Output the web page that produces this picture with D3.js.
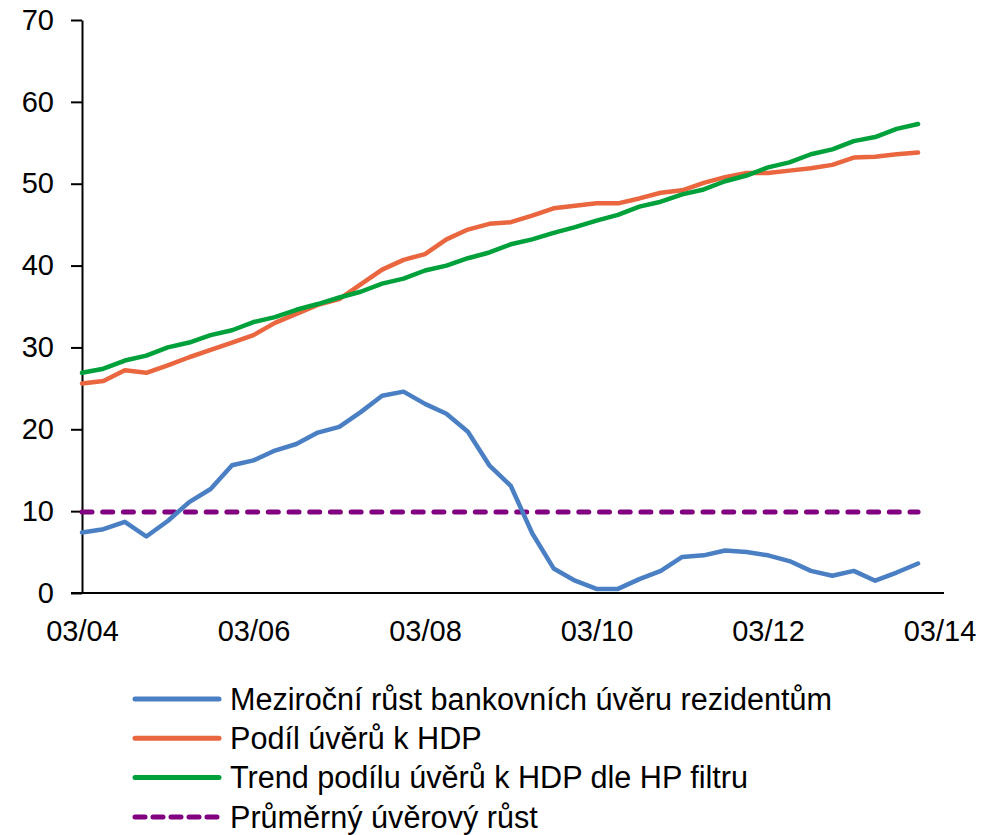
<!DOCTYPE html>
<html>
<head>
<meta charset="utf-8">
<script src="https://cdn.jsdelivr.net/npm/d3@7"></script>
<style>
    body { margin: 0; background: #fff; }
    svg { display: block; font-family: "Liberation Sans", Arial, sans-serif; }
</style>
</head>
<body>
<div id="chart"></div>
<script>
// quarters 03/04 .. 12/13, plus 03/14 which only appears on the axis
const quarters = ["03/04", "06/04", "09/04", "12/04", "03/05", "06/05", "09/05", "12/05",
    "03/06", "06/06", "09/06", "12/06", "03/07", "06/07", "09/07", "12/07",
    "03/08", "06/08", "09/08", "12/08", "03/09", "06/09", "09/09", "12/09",
    "03/10", "06/10", "09/10", "12/10", "03/11", "06/11", "09/11", "12/11",
    "03/12", "06/12", "09/12", "12/12", "03/13", "06/13", "09/13", "12/13", "03/14"];
const xTickLabels = ["03/04", "03/06", "03/08", "03/10", "03/12", "03/14"];
const yTickValues = [0, 10, 20, 30, 40, 50, 60, 70];

const creditGrowth = [7.4, 7.8, 8.7, 6.9, 8.8, 11.1, 12.7, 15.6, 16.2, 17.4,
    18.2, 19.6, 20.3, 22.1, 24.1, 24.6, 23.1, 21.9, 19.7, 15.6,
    13.1, 7.3, 3.0, 1.5, 0.5, 0.5, 1.7, 2.7, 4.4, 4.6,
    5.2, 5.0, 4.6, 3.9, 2.7, 2.1, 2.7, 1.5, 2.5, 3.6];
const creditToGdp = [25.6, 25.9, 27.2, 26.9, 27.8, 28.8, 29.7, 30.6, 31.5, 33.0,
    34.1, 35.2, 35.9, 37.7, 39.5, 40.7, 41.4, 43.2, 44.4, 45.1,
    45.3, 46.1, 47.0, 47.3, 47.6, 47.6, 48.2, 48.9, 49.2, 50.1,
    50.8, 51.3, 51.3, 51.6, 51.9, 52.3, 53.2, 53.3, 53.6, 53.8];
const hpTrend = [26.9, 27.4, 28.4, 29.0, 30.0, 30.6, 31.5, 32.1, 33.1, 33.7,
    34.6, 35.3, 36.1, 36.8, 37.8, 38.4, 39.4, 40.0, 40.9, 41.6,
    42.6, 43.2, 44.0, 44.7, 45.5, 46.2, 47.2, 47.8, 48.7, 49.3,
    50.3, 51.0, 52.0, 52.6, 53.6, 54.2, 55.2, 55.7, 56.7, 57.3];
const avgGrowth = 9.9;

const seriesNames = ["Meziroční růst bankovních úvěru rezidentům", "Podíl úvěrů k HDP",
    "Trend podílu úvěrů k HDP dle HP filtru", "Průměrný úvěrový růst"];
const colors = ["#4a7fc4", "#e9663f", "#00a03b", "#800080"];

const width = 990, height = 835;
const plot = { left: 82, right: 939.5, top: 20, bottom: 593 };

const svg = d3.select("#chart").append("svg")
    .attr("width", width)
    .attr("height", height);

const x = d3.scalePoint().domain(quarters).range([plot.left, plot.right]);
const y = d3.scaleLinear().domain([0, 70]).range([plot.bottom, plot.top]);

// Y axis
const yAxis = svg.append("g")
    .attr("transform", `translate(${plot.left},0)`)
    .call(d3.axisLeft(y).tickValues(yTickValues).tickSize(11).tickSizeOuter(0).tickPadding(17));
yAxis.select(".domain").attr("stroke", "#000").attr("stroke-width", 2);
yAxis.selectAll(".tick line").attr("stroke", "#000").attr("stroke-width", 2);
yAxis.selectAll("text").attr("font-size", 29).attr("fill", "#000")
    .attr("font-family", "Liberation Sans, Arial, sans-serif");

// X axis (no tick marks, labels every 2 years)
const xAxis = svg.append("g")
    .attr("transform", `translate(0,${plot.bottom})`)
    .call(d3.axisBottom(x).tickValues(xTickLabels).tickSize(0).tickPadding(27));
xAxis.select(".domain").remove();
xAxis.selectAll("text").attr("font-size", 29).attr("fill", "#000")
    .attr("font-family", "Liberation Sans, Arial, sans-serif");
svg.append("line")
    .attr("x1", plot.left - 11).attr("x2", 944)
    .attr("y1", plot.bottom).attr("y2", plot.bottom)
    .attr("stroke", "#000").attr("stroke-width", 2);

const dataQuarters = quarters.slice(0, creditGrowth.length);
const line = d3.line()
    .x((d, i) => x(dataQuarters[i]))
    .y(d => y(d));

// average growth dashed line
svg.append("path")
    .datum(dataQuarters.map(() => avgGrowth))
    .attr("fill", "none")
    .attr("stroke", colors[3])
    .attr("stroke-width", 5)
    .attr("stroke-linecap", "round")
    .attr("stroke-dasharray", "10,10.7")
    .attr("d", line);

[creditGrowth, creditToGdp, hpTrend].forEach((s, k) => {
    svg.append("path")
        .datum(s)
        .attr("fill", "none")
        .attr("stroke", colors[k])
        .attr("stroke-width", 4.5)
        .attr("stroke-linejoin", "round")
        .attr("stroke-linecap", "round")
        .attr("d", line);
});

// legend
const legend = svg.append("g");
seriesNames.forEach((name, i) => {
    const cy = 699 + i * 39.3;
    legend.append("line")
        .attr("x1", 135).attr("x2", 219)
        .attr("y1", cy).attr("y2", cy)
        .attr("stroke", colors[i])
        .attr("stroke-width", 5)
        .attr("stroke-linecap", "round")
        .attr("stroke-dasharray", i === 3 ? "10,8" : null);
    legend.append("text")
        .attr("x", 230).attr("y", cy)
        .attr("dy", "0.35em")
        .attr("font-size", 30.6)
        .attr("fill", "#000")
        .text(name);
});
</script>
</body>
</html>
